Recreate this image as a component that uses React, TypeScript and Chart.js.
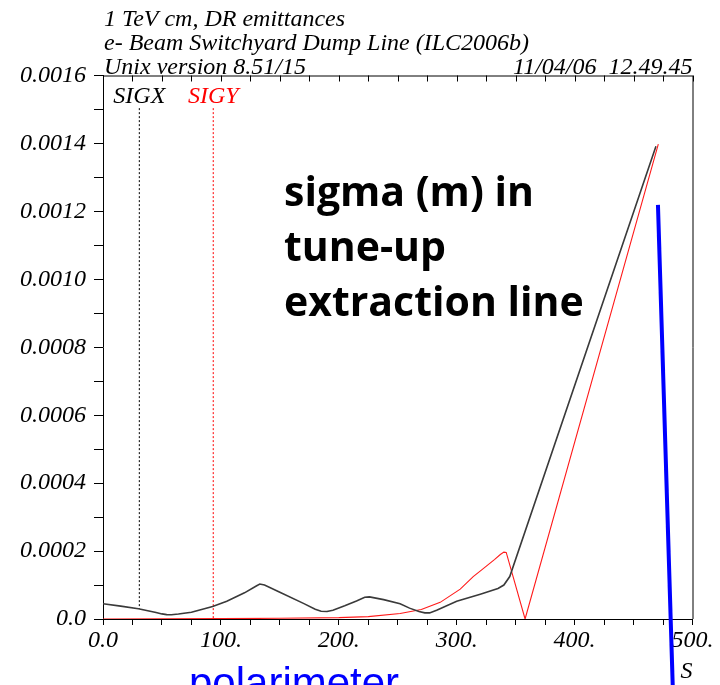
import React, { useEffect, useRef } from 'react';
import { Chart, registerables } from 'chart.js';

Chart.register(...registerables);

// ---- data ----
const titleLines = ['1 TeV cm, DR emittances', 'e- Beam Switchyard Dump Line (ILC2006b)', 'Unix version 8.51/15'];
const dateStamp = '11/04/06  12.49.45';
const axisLabelS = 'S';
const seriesNames = ['SIGX', 'SIGY'];

const sigxS = [0, 15, 30, 45, 50, 54, 58, 64, 75, 93, 105, 120, 130, 133, 137, 150, 170, 180, 185, 190, 195, 205, 215, 222, 226, 238, 252, 260, 268, 273, 277, 283, 300, 320, 335, 340, 345, 469];
const sigxV = [4.5e-5, 3.8e-5, 3.0e-5, 1.9e-5, 1.5e-5, 1.3e-5, 1.25e-5, 1.45e-5, 2.0e-5, 3.7e-5, 5.2e-5, 7.7e-5, 9.7e-5, 1.03e-4, 1.0e-4, 7.9e-5, 4.6e-5, 2.9e-5, 2.3e-5, 2.2e-5, 2.6e-5, 3.9e-5, 5.3e-5, 6.4e-5, 6.5e-5, 5.7e-5, 4.5e-5, 3.2e-5, 2.2e-5, 1.8e-5, 1.8e-5, 2.6e-5, 5.2e-5, 7.3e-5, 9.0e-5, 1.0e-4, 1.25e-4, 1.392e-3];

const sigyS = [0, 50, 100, 150, 200, 225, 252, 270, 286, 303, 314, 322, 332, 337, 340, 342, 358, 471];
const sigyV = [2e-7, 5e-7, 1e-6, 2e-6, 4e-6, 7e-6, 1.6e-5, 2.8e-5, 4.9e-5, 8.8e-5, 1.25e-4, 1.47e-4, 1.75e-4, 1.9e-4, 1.97e-4, 1.96e-4, 0, 1.398e-3];

const markerS = [30.8, 93.5];
const markerTop = 0.001504;
const markerBottom = [3.0e-5, 0];

const polarimeterS = [470.7, 483.6];
const polarimeterV = [0.001219, -0.000237];

const noteLines = ['sigma (m) in', 'tune-up', 'extraction line'];
const polLabel = 'polarimeter';

const xTickValues = [0, 100, 200, 300, 400, 500];
const yMax = 0.0016;

const SERIF = '"Liberation Serif", "Times New Roman", serif';

function pts(xs: number[], ys: number[]) {
  return xs.map((x, i) => ({ x, y: ys[i] }));
}

const overlayPlugin = {
  id: 'overlay',
  afterDraw(chart: any) {
    const { ctx, chartArea, scales } = chart;
    const xs = scales.x;
    ctx.save();
    // frame top & right
    ctx.strokeStyle = '#000';
    ctx.lineWidth = 1;
    ctx.beginPath();
    ctx.moveTo(chartArea.left, chartArea.top + 0.5);
    ctx.lineTo(chartArea.right + 0.5, chartArea.top + 0.5);
    ctx.lineTo(chartArea.right + 0.5, chartArea.bottom);
    ctx.stroke();
    // top ticks (inside)
    for (let v = 0; v <= 500; v += 25) {
      const px = Math.round(xs.getPixelForValue(v)) + 0.5;
      ctx.beginPath();
      ctx.moveTo(px, chartArea.top);
      ctx.lineTo(px, chartArea.top + 6);
      ctx.stroke();
    }
    // header text
    ctx.fillStyle = '#000';
    ctx.font = `italic 24px ${SERIF}`;
    ctx.textAlign = 'left';
    ctx.textBaseline = 'alphabetic';
    titleLines.forEach((t, i) => ctx.fillText(t, chartArea.left + 1, 26 + i * 24));
    ctx.textAlign = 'right';
    ctx.fillText(dateStamp, chartArea.right, 74);
    // series labels
    ctx.textAlign = 'center';
    ctx.fillStyle = '#000';
    ctx.fillText(seriesNames[0], xs.getPixelForValue(markerS[0]), 103);
    ctx.fillStyle = '#ff0000';
    ctx.fillText(seriesNames[1], xs.getPixelForValue(markerS[1]), 103);
    // S axis label
    ctx.fillStyle = '#000';
    ctx.textAlign = 'right';
    ctx.fillText(axisLabelS, chartArea.right, 678);
    // note
    ctx.textAlign = 'left';
    ctx.font = 'bold 41px "Open Sans", Lato, sans-serif';
    noteLines.forEach((t, i) => ctx.fillText(t, 284, 206 + i * 55));
    // polarimeter
    ctx.fillStyle = '#0000ff';
    ctx.font = '42px "Liberation Sans", Arial, sans-serif';
    ctx.fillText(polLabel, 189, 697);
    ctx.restore();
  },
};

export default function App() {
  const ref = useRef<HTMLCanvasElement>(null);
  useEffect(() => {
    if (!ref.current) return;
    const chart = new Chart(ref.current, {
      type: 'scatter',
      data: {
        datasets: [
          {
            label: 'SIGX',
            data: pts(sigxS, sigxV),
            showLine: true,
            borderColor: '#3a3a3a',
            borderWidth: 1.6,
            pointRadius: 0,
            tension: 0,
          },
          {
            label: 'SIGY',
            data: pts(sigyS, sigyV),
            showLine: true,
            borderColor: '#ff1a1a',
            borderWidth: 1.1,
            pointRadius: 0,
            tension: 0,
          },
          {
            label: 'SIGX marker',
            data: [{ x: markerS[0], y: markerTop }, { x: markerS[0], y: markerBottom[0] }],
            showLine: true,
            borderColor: '#000',
            borderWidth: 1,
            borderDash: [2, 2],
            pointRadius: 0,
          },
          {
            label: 'SIGY marker',
            data: [{ x: markerS[1], y: markerTop }, { x: markerS[1], y: markerBottom[1] }],
            showLine: true,
            borderColor: '#ff0000',
            borderWidth: 1,
            borderDash: [2, 2],
            pointRadius: 0,
          },
          {
            label: 'polarimeter',
            data: pts(polarimeterS, polarimeterV),
            showLine: true,
            borderColor: '#0000ff',
            borderWidth: 4,
            pointRadius: 0,
            clip: false,
          } as any,
        ],
      },
      options: {
        responsive: false,
        animation: false,
        devicePixelRatio: 1,
        layout: { padding: { top: 75.5, right: 27.5, left: 0, bottom: 0 } },
        plugins: { legend: { display: false }, tooltip: { enabled: false } },
        scales: {
          x: {
            type: 'linear',
            min: 0,
            max: 500,
            afterBuildTicks: (scale: any) => {
              const t = [];
              for (let v = 0; v <= 500; v += 25) t.push({ value: v });
              scale.ticks = t;
            },
            afterFit: (scale: any) => {
              scale.height = 66;
              scale.paddingLeft = 0;
              scale.paddingRight = 0;
            },
            ticks: {
              autoSkip: false,
              maxRotation: 0,
              padding: 1,
              color: '#000',
              font: { family: SERIF, size: 24, style: 'italic' },
              callback: (v: any) => (xTickValues.includes(v) ? (v === 0 ? '0.0' : `${v}.`) : ''),
            },
            grid: { drawOnChartArea: false, drawTicks: true, tickLength: 6, color: '#000' },
            border: { display: true, color: '#000', width: 1 },
          },
          y: {
            type: 'linear',
            min: 0,
            max: yMax,
            afterBuildTicks: (scale: any) => {
              const t = [];
              for (let k = 0; k <= 16; k++) t.push({ value: k * 0.0001 });
              scale.ticks = t;
            },
            afterFit: (scale: any) => {
              scale.width = 103;
              scale.paddingTop = 0;
              scale.paddingBottom = 0;
            },
            ticks: {
              autoSkip: false,
              padding: 8,
              color: '#000',
              font: { family: SERIF, size: 24, style: 'italic' },
              callback: (v: any) => {
                const k = Math.round(v / 0.0001);
                if (k % 2) return '';
                return k === 0 ? '0.0' : (k * 0.0001).toFixed(4);
              },
            },
            grid: { drawOnChartArea: false, drawTicks: true, tickLength: 9, color: '#000' },
            border: { display: true, color: '#000', width: 1 },
          },
        },
      },
      plugins: [overlayPlugin],
    });
    return () => chart.destroy();
  }, []);
  return (
    <div style={{ position: 'absolute', left: 0, top: 0, width: 720, height: 685, background: '#fff' }}>
      <canvas ref={ref} width={720} height={685} style={{ display: 'block' }} />
    </div>
  );
}
